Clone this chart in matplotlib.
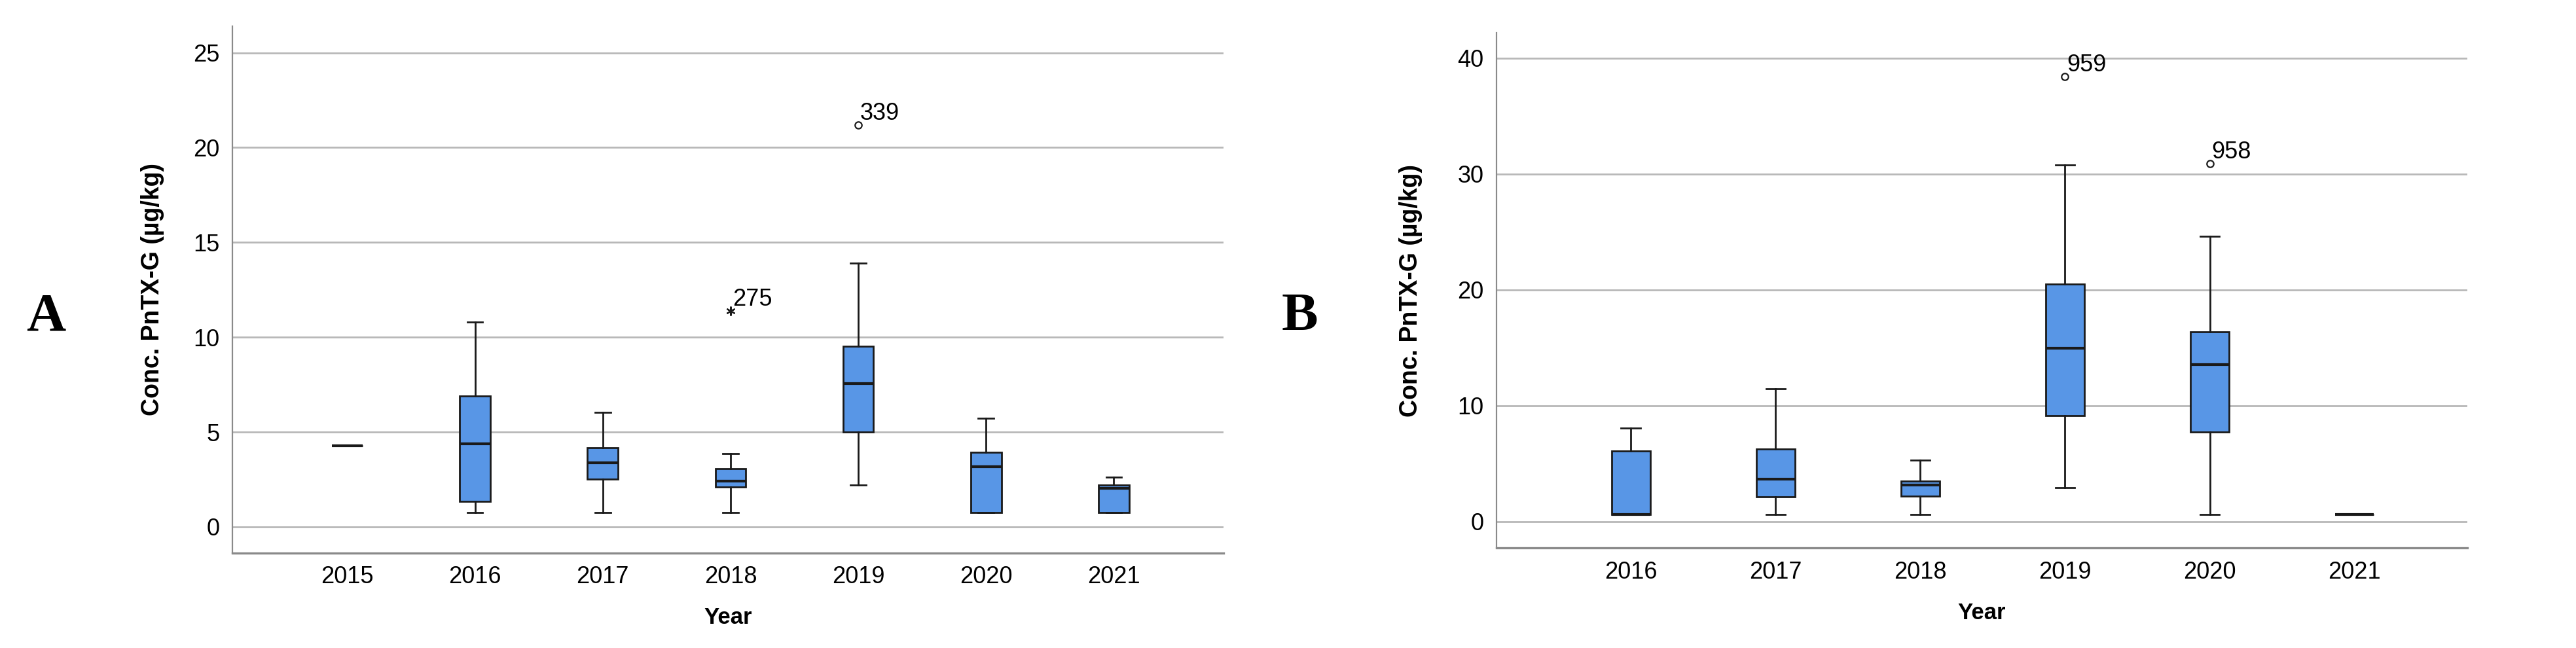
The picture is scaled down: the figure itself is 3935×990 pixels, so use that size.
"""PnTX-G concentration by year, two boxplot panels (A, B)."""
import matplotlib
matplotlib.use("Agg")
import matplotlib.pyplot as plt

plt.rcParams["font.family"] = ["Liberation Sans", "DejaVu Sans"]

# ---------- data ----------
years_a = ["2015", "2016", "2017", "2018", "2019", "2020", "2021"]
lo_a  = [4.29, 0.75, 0.75, 0.75, 2.20, 0.75, 0.75]
q1_a  = [4.29, 1.36, 2.51, 2.11, 5.00, 0.75, 0.75]
med_a = [4.29, 4.38, 3.39, 2.40, 7.57, 3.17, 2.02]
q3_a  = [4.29, 6.91, 4.18, 3.08, 9.53, 3.92, 2.20]
hi_a  = [4.29, 10.8, 6.05, 3.85, 13.9, 5.72, 2.62]
out_a = {"2018": (11.38, "275", "*"), "2019": (21.2, "339", "o")}

years_b = ["2016", "2017", "2018", "2019", "2020", "2021"]
lo_b  = [0.61, 0.61, 0.61, 2.92, 0.61, 0.58]
q1_b  = [0.61, 2.13, 2.16, 9.16, 7.72, 0.58]
med_b = [0.61, 3.64, 3.14, 14.93, 13.52, 0.58]
q3_b  = [6.06, 6.27, 3.46, 20.52, 16.37, 0.58]
hi_b  = [8.04, 11.43, 5.30, 30.76, 24.63, 0.58]
out_b = {"2019": (38.44, "959", "o"), "2020": (30.87, "958", "o")}

BLUE = "#5896e6"
EDGE = "#1a1a1a"
GRID = "#b8b8b8"
FS = 26


def panel(ax, years, lo, q1, med, q3, hi, outl, yticks, ylim, xlim, width, ypad):
    stats = []
    for i, y in enumerate(years):
        stats.append({"whislo": lo[i], "q1": q1[i], "med": med[i], "q3": q3[i],
                      "whishi": hi[i], "fliers": []})
    ax.bxp(stats, positions=range(len(years)), widths=width, patch_artist=True,
           showfliers=False, capwidths=width * 0.5,
           boxprops=dict(facecolor=BLUE, edgecolor=EDGE, lw=2),
           medianprops=dict(color=EDGE, lw=3),
           whiskerprops=dict(color=EDGE, lw=2),
           capprops=dict(color=EDGE, lw=2))
    for y, (v, lab, m) in outl.items():
        i = years.index(y)
        if m == "o":
            ax.plot(i, v, marker="o", ms=7.5, mfc="white", mec=EDGE, mew=1.6,
                    ls="none", zorder=5)
        else:
            ax.plot(i, v, marker=(6, 2, 0), ms=10, mec=EDGE, mew=1.6,
                    ls="none", zorder=5)
        ax.annotate(lab, (i, v), xytext=(2, 0), textcoords="offset points",
                    fontsize=FS, ha="left", va="bottom")
    ax.set_xticks(range(len(years)), years)
    ax.set_yticks(yticks)
    ax.set_ylim(*ylim); ax.set_xlim(*xlim)
    ax.yaxis.grid(True, color=GRID, lw=2); ax.set_axisbelow(True)
    ax.tick_params(length=0, labelsize=FS, pad=14)
    for s in ("top", "right"):
        ax.spines[s].set_visible(False)
    ax.spines["left"].set_color("#8a8a8a"); ax.spines["left"].set_linewidth(1.6)
    ax.spines["bottom"].set_color("#8a8a8a"); ax.spines["bottom"].set_linewidth(2.4)
    ax.set_xlabel("Year", fontsize=FS - 1, fontweight="bold", labelpad=20)
    ax.set_ylabel("Conc. PnTX-G (µg/kg)", fontsize=27, fontweight="bold",
                  labelpad=ypad)


fig = plt.figure(figsize=(39.35, 9.9), dpi=100)
axA = fig.add_axes([0.0902, 0.1465, 0.3848, 0.8131])
axB = fig.add_axes([0.5809, 0.1541, 0.3769, 0.7954])

panel(axA, years_a, lo_a, q1_a, med_a, q3_a, hi_a, out_a,
      [0, 5, 10, 15, 20, 25], (-1.38, 26.4), (-0.9, 6.86), 0.24, 32)
panel(axB, years_b, lo_b, q1_b, med_b, q3_b, hi_b, out_b,
      [0, 10, 20, 30, 40], (-2.31, 42.2), (-0.93, 5.78), 0.27, 38)

fig.text(70 / 3935, 1 - 485 / 990, "A", fontsize=60, fontweight="bold",
         family="Liberation Serif", ha="center", va="center")
fig.text(1985 / 3935, 1 - 485 / 990, "B", fontsize=60, fontweight="bold",
         family="Liberation Serif", ha="center", va="center")

fig.savefig("out.png", dpi=100)
